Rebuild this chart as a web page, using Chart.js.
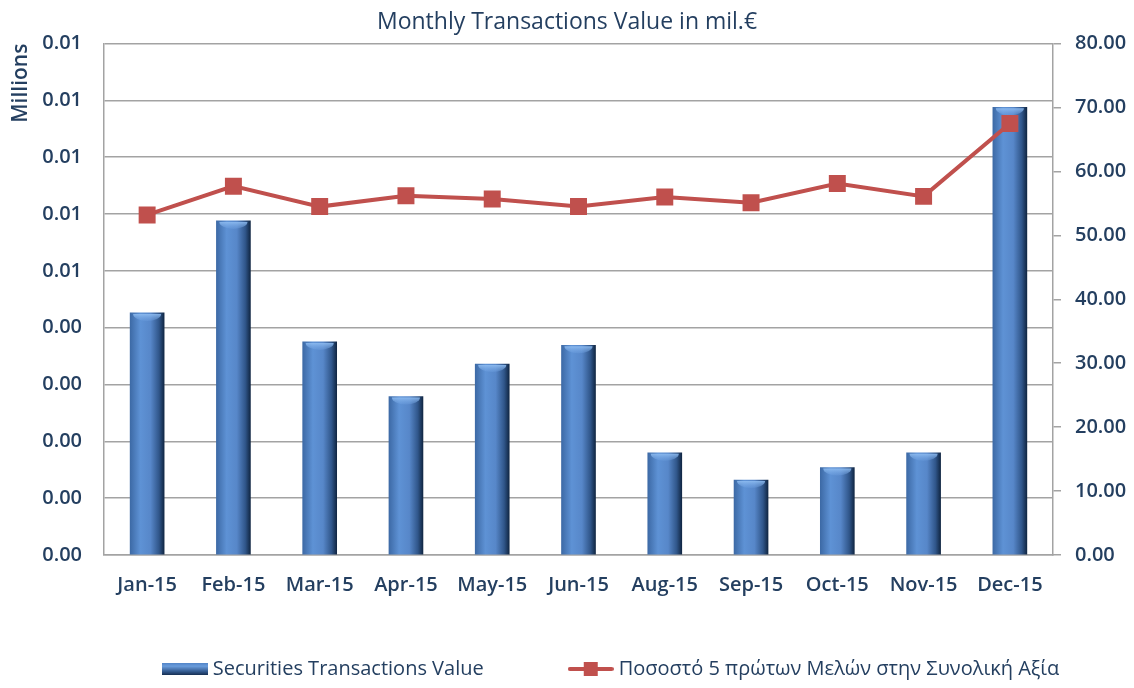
<!DOCTYPE html>
<html>
<head>
<meta charset="utf-8">
<script src="https://cdn.jsdelivr.net/npm/chart.js@4.4.0/dist/chart.umd.min.js"></script>
<style>
  html, body { margin: 0; padding: 0; background: #fff; }
  #wrap { width: 1134px; height: 688px; }
</style>
</head>
<body>
<div id="wrap"><canvas id="chart" width="1134" height="688"></canvas></div>
<script>
const months = ['Jan-15', 'Feb-15', 'Mar-15', 'Apr-15', 'May-15', 'Jun-15', 'Aug-15', 'Sep-15', 'Oct-15', 'Nov-15', 'Dec-15'];
// Securities Transactions Value (millions)
const transValue = [0.00426, 0.00588, 0.00375, 0.00279, 0.00336, 0.00369, 0.00180, 0.00132, 0.00154, 0.00180, 0.00788];
// share of the 5 top members (%)
const top5Share = [53.2, 57.7, 54.5, 56.2, 55.7, 54.5, 56.0, 55.1, 58.1, 56.1, 67.5];

const navy = '#243F60';
const gridGray = '#a3a3a3';
const red = '#C0504D';

Chart.defaults.font.family = '"Open Sans", sans-serif';
Chart.defaults.color = navy;

function barGradient(ctx, left, right) {
  const g = ctx.createLinearGradient(left, 0, right, 0);
  g.addColorStop(0, '#3d6aa6');
  g.addColorStop(0.3, '#5e92d5');
  g.addColorStop(0.6, '#5787c9');
  g.addColorStop(0.85, '#30568a');
  g.addColorStop(1, '#112744');
  return g;
}

// legend swatches
function makeBarSwatch() {
  const c = document.createElement('canvas');
  c.width = 46; c.height = 14;
  const x = c.getContext('2d');
  const g = x.createLinearGradient(0, 0, 0, 14);
  g.addColorStop(0, '#4a7cc0');
  g.addColorStop(0.3, '#6a9ddc');
  g.addColorStop(0.7, '#30568a');
  g.addColorStop(1, '#0f2340');
  x.fillStyle = g;
  x.fillRect(0, 1, 46, 12);
  return c;
}
function makeLineSwatch() {
  const c = document.createElement('canvas');
  c.width = 46; c.height = 18;
  const x = c.getContext('2d');
  x.strokeStyle = red;
  x.lineWidth = 4;
  x.lineCap = 'round';
  x.beginPath(); x.moveTo(2, 9); x.lineTo(44, 9); x.stroke();
  x.fillStyle = red;
  x.fillRect(16, 2, 14, 14);
  return c;
}
const barSwatch = makeBarSwatch();
const lineSwatch = makeLineSwatch();

const barCaps = {
  id: 'barCaps',
  afterDatasetDraw(chart, args) {
    if (args.index !== 0) return;
    const ctx = chart.ctx;
    args.meta.data.forEach(el => {
      const w = el.width;
      ctx.save();
      const g = ctx.createLinearGradient(0, el.y, 0, el.y + 9);
      g.addColorStop(0, 'rgba(150,195,245,0.95)');
      g.addColorStop(1, 'rgba(110,160,225,0.2)');
      ctx.fillStyle = g;
      ctx.beginPath();
      ctx.ellipse(el.x, el.y + 1, w / 2 - 3, 7, 0, 0, Math.PI);
      ctx.fill();
      ctx.restore();
    });
  }
};

// keep the legend block short, then move it where the reference has it
const legendPlace = {
  id: 'legendPlace',
  beforeLayout(chart) {
    const lg = chart.legend;
    if (lg && !lg._wrapped) {
      const fit = lg.fit;
      lg.fit = function () { fit.call(this); this.height = 68; };
      lg._wrapped = true;
    }
  },
  afterLayout(chart) {
    chart.legend.left += 46;
    chart.legend.right += 46;
    chart.legend.top = 570;
  }
};

new Chart(document.getElementById('chart'), {
  type: 'bar',
  data: {
    labels: months,
    datasets: [{
      label: 'Securities Transactions Value',
      data: transValue,
      yAxisID: 'y',
      order: 1,
      barThickness: 34,
      backgroundColor: (c) => {
        const chart = c.chart;
        if (!chart.chartArea || c.type !== 'data') return '#4f81bd';
        const x = chart.scales.x.getPixelForValue(c.dataIndex);
        return barGradient(chart.ctx, x - 17, x + 17);
      },
      borderWidth: 0
    }, {
      type: 'line',
      label: 'Ποσοστό 5 πρώτων Μελών στην Συνολική Αξία',
      data: top5Share,
      yAxisID: 'y1',
      order: 0,
      borderColor: red,
      backgroundColor: red,
      borderWidth: 4,
      pointStyle: 'rect',
      pointRadius: 12,
      pointBackgroundColor: red,
      pointBorderWidth: 0,
      tension: 0
    }]
  },
  options: {
    responsive: false,
    animation: false,
    layout: { padding: 0 },
    plugins: {
      title: {
        display: true,
        text: 'Monthly Transactions Value in mil.€',
        color: navy,
        font: { size: 23, weight: 'normal' },
        padding: { top: 9, bottom: 7 }
      },
      legend: {
        position: 'bottom',
        labels: {
          color: navy,
          font: { size: 20 },
          padding: 89,
          usePointStyle: true,
          pointStyleWidth: 36,
          generateLabels: (chart) => chart.data.datasets.map((ds, i) => ({
            text: ds.label,
            datasetIndex: i,
            fontColor: navy,
            pointStyle: i === 0 ? barSwatch : lineSwatch,
            lineWidth: 0
          }))
        }
      },
      tooltip: { enabled: false }
    },
    scales: {
      x: {
        grid: { display: false, drawTicks: false },
        border: { color: gridGray, width: 1.5 },
        ticks: { color: navy, font: { size: 20, weight: '600' }, padding: 18 },
        afterFit: (s) => { s.height = 65; }
      },
      y: {
        position: 'left',
        min: 0,
        max: 0.009,
        ticks: {
          stepSize: 0.001,
          color: navy,
          font: { size: 20, weight: '600' },
          padding: 22,
          callback: (v) => v.toFixed(2)
        },
        grid: { color: gridGray, lineWidth: 1.5, drawTicks: false },
        border: { color: gridGray, width: 1.5 },
        title: {
          display: true,
          text: 'Millions',
          align: 'end',
          color: navy,
          font: { size: 21, weight: '600' },
          padding: { top: 8, bottom: 0 }
        },
        afterFit: (s) => { s.width = 104; }
      },
      y1: {
        position: 'right',
        min: 0,
        max: 80,
        ticks: {
          stepSize: 10,
          color: navy,
          font: { size: 20, weight: '600' },
          padding: 14,
          callback: (v) => v.toFixed(2)
        },
        grid: { drawOnChartArea: false, color: gridGray, lineWidth: 1.5, tickLength: 8 },
        border: { color: gridGray, width: 1.5 },
        afterFit: (s) => { s.width = 81; }
      }
    }
  },
  plugins: [barCaps, legendPlace]
});
</script>
</body>
</html>
